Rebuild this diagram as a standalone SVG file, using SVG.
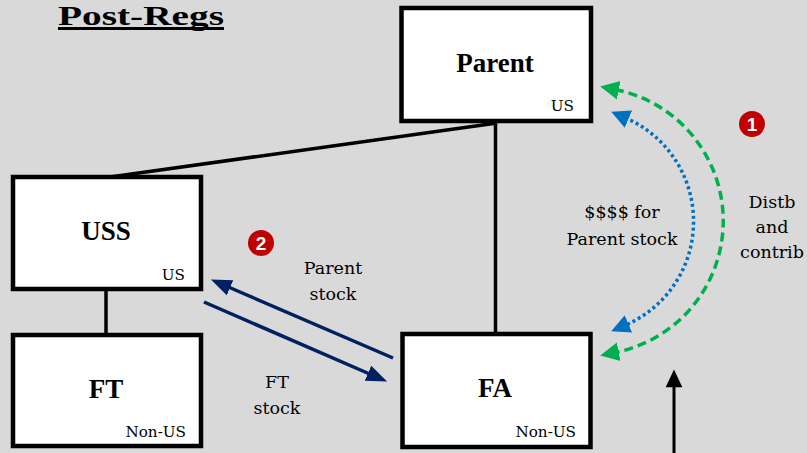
<svg xmlns="http://www.w3.org/2000/svg" width="807" height="453" viewBox="0 0 807 453">
<defs>
<style>
.box{fill:#fff;stroke:#000;stroke-width:4.5}
.conn{stroke:#000;stroke-width:3.5;fill:none}
.name{font-family:"Liberation Serif",serif;font-weight:bold;font-size:27px;text-anchor:middle;fill:#000}
.tag{font-family:"DejaVu Serif",serif;font-size:15.2px;text-anchor:end;fill:#000}
.lbl{font-family:"DejaVu Serif",serif;font-size:17.5px;text-anchor:middle;fill:#000}
.badge{fill:#C00000}
.bnum{font-family:"Liberation Sans",sans-serif;font-weight:bold;font-size:19px;text-anchor:middle;fill:#fff}
</style>
<marker id="hGreen" markerUnits="userSpaceOnUse" markerWidth="20" markerHeight="20" viewBox="0 0 16 16" refX="3" refY="8" orient="auto-start-reverse"><path d="M0,0.5 L15,8 L0,15.5 z" fill="#00B050"/></marker>
<marker id="hBlue" markerUnits="userSpaceOnUse" markerWidth="20" markerHeight="20" viewBox="0 0 16 16" refX="3" refY="8" orient="auto-start-reverse"><path d="M0,0.5 L15,8 L0,15.5 z" fill="#0070C0"/></marker>
<marker id="hNavy" markerUnits="userSpaceOnUse" markerWidth="22" markerHeight="22" viewBox="0 0 20 16" refX="4" refY="8" orient="auto"><path d="M0,0.5 L19,8 L0,15.5 z" fill="#002060"/></marker>
<marker id="hBlack" markerUnits="userSpaceOnUse" markerWidth="20" markerHeight="20" viewBox="0 0 16 18" refX="3" refY="8" orient="auto"><path d="M0,0.5 L16,8 L0,15.5 z" fill="#000"/></marker>
</defs>
<rect x="0" y="0" width="807" height="453" fill="#D9D9D9"/>
<g id="title">
<text x="58" y="25" font-family="Liberation Serif, serif" font-weight="bold" font-size="28" textLength="166" lengthAdjust="spacingAndGlyphs">Post-Regs</text>
<line x1="58" y1="28.5" x2="224" y2="28.5" stroke="#000" stroke-width="3"/>
</g>
<g id="connectors">
<line class="conn" x1="497" y1="123" x2="110" y2="177" stroke-width="3"/>
<line class="conn" x1="495.5" y1="123" x2="495.5" y2="333"/>
<line class="conn" x1="106" y1="291" x2="106" y2="333"/>
<path d="M615,89.5 A134 134 0 0 1 615,352.5" fill="none" stroke="#00B050" stroke-width="3.5" stroke-dasharray="9,5" marker-start="url(#hGreen)" marker-end="url(#hGreen)"/>
<path d="M625,117.6 A113 113 0 0 1 625,325.4" fill="none" stroke="#0070C0" stroke-width="3.5" stroke-dasharray="3,3" marker-start="url(#hBlue)" marker-end="url(#hBlue)"/>
<line x1="393" y1="358" x2="226" y2="286" stroke="#002060" stroke-width="3.5" marker-end="url(#hNavy)"/>
<line x1="204" y1="302" x2="372" y2="375" stroke="#002060" stroke-width="3.5" marker-end="url(#hNavy)"/>
<line x1="674" y1="453" x2="674" y2="384" stroke="#000" stroke-width="3" marker-end="url(#hBlack)"/>
</g>
<g id="parent">
<rect class="box" x="401.5" y="8" width="189.5" height="113"/>
<text class="name" x="495" y="72">Parent</text>
<text class="tag" x="574" y="111">US</text>
</g>
<g id="uss">
<rect class="box" x="13" y="177" width="188" height="112"/>
<text class="name" x="106" y="240">USS</text>
<text class="tag" x="185" y="280">US</text>
</g>
<g id="ft">
<rect class="box" x="13" y="335" width="188" height="111"/>
<text class="name" x="106" y="398">FT</text>
<text class="tag" x="186" y="437">Non-US</text>
</g>
<g id="fa">
<rect class="box" x="402.5" y="334" width="188" height="113"/>
<text class="name" x="495" y="397">FA</text>
<text class="tag" x="576" y="437">Non-US</text>
</g>
<g id="labels">
<text class="lbl" x="333" y="274">Parent</text>
<text class="lbl" x="333" y="300">stock</text>
<text class="lbl" x="277" y="388">FT</text>
<text class="lbl" x="277" y="414">stock</text>
<text class="lbl" x="622" y="218">$$$$ for</text>
<text class="lbl" x="622" y="245">Parent stock</text>
<text class="lbl" x="772" y="208">Distb</text>
<text class="lbl" x="772" y="233">and</text>
<text class="lbl" x="772" y="258">contrib</text>
</g>
<g id="badge1">
<circle class="badge" cx="752" cy="124" r="13"/>
<text class="bnum" x="752" y="131">1</text>
</g>
<g id="badge2">
<circle class="badge" cx="261" cy="243" r="13"/>
<text class="bnum" x="261" y="250">2</text>
</g>
</svg>
